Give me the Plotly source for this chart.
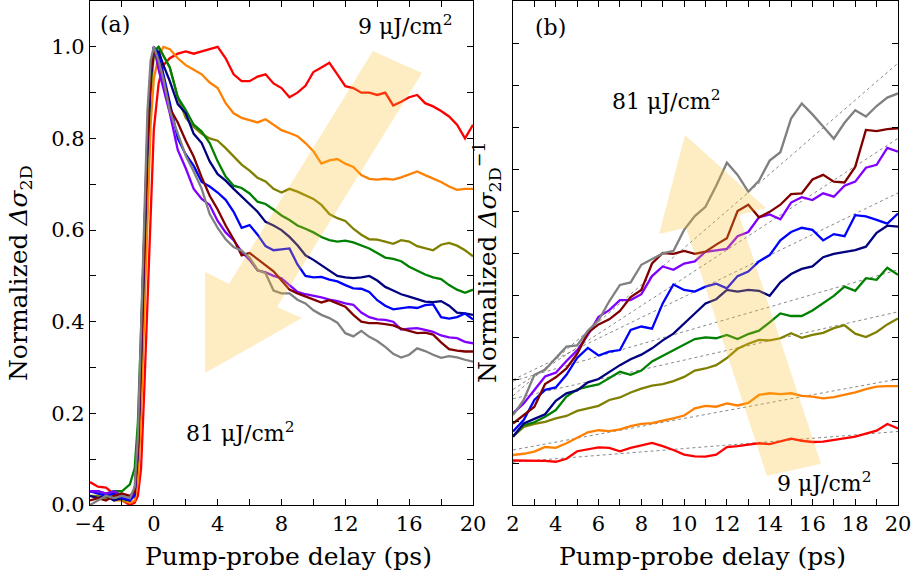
import plotly.graph_objects as go

# ---------------- data: panel (a) ----------------
t_a = [-4, -3.5, -3, -2.5, -2, -1.5, -1.2, -1.0, -0.8, -0.6, -0.4, -0.2, 0, 0.3, 0.6,
       1.0, 1.5, 2.0, 2.5, 3.0, 3.5, 4.0, 4.5, 5.0, 5.5, 6.0, 6.5, 7.0, 7.5, 8.0, 8.5,
       9.0, 9.5, 10.0, 10.5, 11.0, 11.5, 12.0, 12.5, 13.0, 13.5, 14.0, 14.5, 15.0, 15.5,
       16.0, 16.5, 17.0, 17.5, 18.0, 18.5, 19.0, 19.5, 20.0]

a_red = [0.05, 0.04, 0.038, 0.025, 0.01, 0.0, 0.005, 0.02, 0.08, 0.25, 0.45, 0.65, 0.82, 0.92, 0.96,
         0.975, 0.985, 0.99, 0.985, 0.99, 0.995, 1.0, 0.975, 0.94, 0.925, 0.925, 0.935, 0.94, 0.92, 0.91, 0.89,
         0.9, 0.915, 0.945, 0.955, 0.965, 0.94, 0.914, 0.91, 0.9, 0.9, 0.895, 0.9, 0.872, 0.88,
         0.89, 0.895, 0.877, 0.87, 0.86, 0.848, 0.83, 0.8, 0.83]
a_orange = [0.02, 0.015, 0.02, 0.01, 0.01, 0.005, 0.01, 0.05, 0.2, 0.42, 0.65, 0.83, 0.93, 0.98, 1.0,
            0.995, 0.975, 0.96, 0.95, 0.94, 0.922, 0.91, 0.877, 0.855, 0.845, 0.84, 0.835, 0.842, 0.83, 0.818, 0.812,
            0.805, 0.79, 0.772, 0.745, 0.752, 0.755, 0.745, 0.738, 0.72, 0.712, 0.71, 0.712, 0.71, 0.715,
            0.722, 0.728, 0.72, 0.712, 0.705, 0.695, 0.688, 0.69, 0.69]
a_olive = [0.02, 0.02, 0.015, 0.02, 0.01, 0.01, 0.03, 0.1, 0.3, 0.55, 0.76, 0.9, 0.98, 1.0, 0.98,
           0.955, 0.89, 0.845, 0.825, 0.81, 0.8, 0.795, 0.779, 0.76, 0.743, 0.73, 0.714, 0.706, 0.69, 0.682, 0.69,
           0.684, 0.676, 0.668, 0.655, 0.635, 0.626, 0.62, 0.603, 0.59, 0.58, 0.579, 0.575, 0.57, 0.578,
           0.575, 0.565, 0.56, 0.556, 0.568, 0.572, 0.566, 0.556, 0.543]
a_green = [0.03, 0.03, 0.025, 0.03, 0.03, 0.045, 0.08, 0.18, 0.38, 0.6, 0.8, 0.93, 0.99, 1.0, 0.98,
           0.955, 0.89, 0.862, 0.83, 0.815, 0.79, 0.75, 0.717, 0.697, 0.692, 0.68, 0.662, 0.657, 0.645, 0.632, 0.622,
           0.61, 0.603, 0.595, 0.585, 0.578, 0.575, 0.577, 0.573, 0.566, 0.56, 0.55, 0.54, 0.537, 0.532,
           0.52, 0.512, 0.503, 0.497, 0.493, 0.48, 0.47, 0.463, 0.47]
a_navy = [0.02, 0.015, 0.02, 0.01, 0.015, 0.01, 0.03, 0.12, 0.32, 0.57, 0.78, 0.93, 0.99, 0.99, 0.96,
          0.925, 0.875, 0.855, 0.81, 0.79, 0.75, 0.722, 0.708, 0.69, 0.673, 0.657, 0.64, 0.618, 0.61, 0.6, 0.585,
          0.567, 0.545, 0.535, 0.523, 0.512, 0.5, 0.497, 0.495, 0.497, 0.5, 0.49, 0.476, 0.468, 0.46,
          0.455, 0.45, 0.444, 0.443, 0.445, 0.435, 0.42, 0.418, 0.415]
a_blue = [0.03, 0.025, 0.02, 0.025, 0.015, 0.01, 0.02, 0.12, 0.33, 0.58, 0.8, 0.94, 1.0, 0.98, 0.94,
          0.88, 0.8, 0.765, 0.74, 0.705, 0.695, 0.682, 0.666, 0.64, 0.605, 0.611, 0.59, 0.565, 0.556, 0.558, 0.56,
          0.525, 0.5, 0.497, 0.498, 0.492, 0.488, 0.48, 0.473, 0.472, 0.465, 0.447, 0.435, 0.427, 0.43,
          0.432, 0.43, 0.436, 0.438, 0.41, 0.407, 0.41, 0.418, 0.405]
a_purple = [0.03, 0.03, 0.025, 0.03, 0.02, 0.015, 0.03, 0.13, 0.35, 0.6, 0.82, 0.95, 1.0, 0.95, 0.91,
            0.855, 0.775, 0.735, 0.69, 0.668, 0.655, 0.62, 0.595, 0.578, 0.553, 0.535, 0.512, 0.508, 0.5, 0.495, 0.48,
            0.465, 0.46, 0.457, 0.453, 0.448, 0.445, 0.44, 0.437, 0.42, 0.41, 0.405, 0.404, 0.4, 0.383,
            0.385, 0.386, 0.382, 0.378, 0.37, 0.366, 0.364, 0.356, 0.353]
a_darkred = [0.01, 0.015, 0.01, 0.02, 0.025, 0.02, 0.03, 0.12, 0.33, 0.58, 0.8, 0.94, 0.995, 0.97, 0.93,
             0.866, 0.835, 0.795, 0.76, 0.715, 0.675, 0.645, 0.61, 0.58, 0.545, 0.55, 0.537, 0.525, 0.51, 0.49, 0.47,
             0.462, 0.455, 0.448, 0.442, 0.447, 0.44, 0.433, 0.415, 0.4, 0.397, 0.397, 0.395, 0.392, 0.385,
             0.38, 0.375, 0.376, 0.372, 0.355, 0.34, 0.337, 0.335, 0.335]
a_gray = [0.0, 0.01, 0.02, 0.015, 0.02, 0.015, 0.04, 0.15, 0.4, 0.65, 0.86, 0.97, 1.0, 0.97, 0.93,
          0.86, 0.81, 0.762, 0.728, 0.69, 0.635, 0.605, 0.58, 0.563, 0.555, 0.54, 0.513, 0.506, 0.468, 0.462, 0.462,
          0.448, 0.44, 0.425, 0.415, 0.408, 0.398, 0.375, 0.368, 0.38, 0.367, 0.358, 0.345, 0.33, 0.322,
          0.328, 0.342, 0.336, 0.328, 0.321, 0.325, 0.322, 0.317, 0.313]

# ---------------- data: panel (b) ----------------
t_b = [2.0, 2.5, 3.0, 3.5, 4.0, 4.5, 5.0, 5.5, 6.0, 6.5, 7.0, 7.5, 8.0, 8.5, 9.0, 9.5, 10.0,
       10.5, 11.0, 11.5, 12.0, 12.5, 13.0, 13.5, 14.0, 14.5, 15.0, 15.5, 16.0, 16.5, 17.0,
       17.5, 18.0, 18.5, 19.0, 19.5, 20.0]

b_red = [1.06, 1.06, 1.06, 1.05, 1.03, 1.1, 1.28, 1.32, 1.37, 1.36, 1.28, 1.36, 1.42, 1.48, 1.4, 1.31, 1.2,
         1.16, 1.15, 1.2, 1.38, 1.4, 1.44, 1.47, 1.45, 1.52, 1.58, 1.53, 1.5, 1.51, 1.55,
         1.58, 1.63, 1.7, 1.77, 1.93, 1.82]
b_orange = [1.19, 1.22, 1.27, 1.38, 1.36, 1.47, 1.6, 1.73, 1.78, 1.76, 1.8, 1.88, 1.93, 1.95, 2.01, 2.06, 2.13,
            2.3, 2.36, 2.34, 2.42, 2.37, 2.43, 2.62, 2.66, 2.64, 2.66, 2.6, 2.58, 2.54, 2.57,
            2.62, 2.68, 2.76, 2.82, 2.83, 2.83]
b_olive = [1.63, 1.86, 1.93, 1.98, 2.06, 2.12, 2.24, 2.3, 2.36, 2.5, 2.56, 2.68, 2.77, 2.84, 2.88, 2.95, 3.05,
           3.2, 3.25, 3.33, 3.5, 3.72, 3.84, 3.93, 3.92, 3.97, 4.09, 3.98, 4.05, 4.1, 4.21,
           4.28, 4.08, 4.0, 4.12, 4.3, 4.44]
b_green = [1.63, 1.9, 1.97, 2.1, 2.26, 2.58, 2.75, 2.82, 2.87, 3.03, 3.17, 3.1, 3.2, 3.42, 3.55, 3.7, 3.81,
           3.95, 3.99, 3.97, 4.05, 3.95, 4.07, 4.15, 4.35, 4.56, 4.5, 4.5, 4.63, 4.8, 4.98,
           5.2, 5.1, 5.4, 5.36, 5.65, 5.48]
b_navy = [1.63, 1.94, 2.05, 2.16, 2.48, 2.66, 2.73, 2.92, 3.0, 3.17, 3.33, 3.47, 3.58, 3.73, 3.92, 4.08, 4.33,
          4.56, 4.8, 4.9, 5.12, 5.08, 5.12, 5.1, 4.98, 5.3, 5.5, 5.62, 5.68, 5.9, 5.98,
          6.02, 6.07, 6.15, 6.48, 6.65, 6.63]
b_blue = [1.75, 2.02, 2.5, 2.74, 2.8, 3.1, 3.5, 3.74, 3.56, 3.65, 3.69, 4.17, 4.25, 4.2, 4.8, 5.25, 5.12,
          5.08, 5.2, 5.27, 5.16, 5.45, 5.56, 5.8, 5.95, 6.3, 6.5, 6.6, 6.55, 6.3, 6.45,
          6.4, 6.9, 6.87, 6.79, 6.7, 6.94]
b_purple = [2.18, 2.42, 2.74, 3.06, 3.15, 3.43, 3.68, 4.05, 4.48, 4.64, 4.88, 4.88, 5.02, 5.45, 5.68, 5.6, 5.75,
            5.8, 6.03, 6.07, 6.1, 6.4, 6.5, 6.85, 6.92, 6.8, 7.2, 7.33, 7.26, 7.42, 7.34,
            7.6, 7.7, 8.03, 8.1, 8.5, 8.41]
b_darkred = [1.94, 2.14, 2.34, 2.88, 3.04, 3.25, 3.6, 4.1, 4.3, 4.42, 4.62, 4.95, 5.12, 5.75, 6.0, 5.98, 6.05,
             5.98, 6.03, 6.2, 6.35, 7.0, 7.15, 6.85, 6.98, 7.15, 7.4, 7.42, 7.75, 7.86, 7.7,
             7.68, 8.05, 8.93, 8.9, 8.95, 8.97]
b_gray = [2.14, 2.5, 3.1, 3.22, 3.5, 3.77, 3.8, 4.15, 4.4, 4.85, 5.24, 5.3, 5.72, 5.85, 5.99, 6.05, 6.55,
          6.88, 7.1, 7.6, 8.15, 7.86, 7.46, 7.72, 8.2, 8.4, 9.2, 9.56, 9.3, 9.01, 8.72,
          9.1, 9.4, 9.25, 9.5, 9.7, 9.8]

# linear fits (dotted), start value at 2 ps and end value at 20 ps
fit_x = [2, 20]
fit_start = [2.6, 2.75, 2.98, 2.95, 2.53, 1.31, 1.02]
fit_end = [10.52, 8.73, 7.43, 5.6, 4.6, 3.0, 1.75]

series_names = ["9", "18", "27", "36", "45", "54", "63", "72", "81"]
colors = ["#FF0000", "#FF8000", "#808000", "#008000", "#000080", "#0000FF", "#8000FF", "#800000", "#808080"]
a_series = [a_red, a_orange, a_olive, a_green, a_navy, a_blue, a_purple, a_darkred, a_gray]
b_series = [b_red, b_orange, b_olive, b_green, b_navy, b_blue, b_purple, b_darkred, b_gray]

# arrow outlines (data units of each panel)
arrow_a_x = [13.73, 4.71, 3.21, 3.21, 9.28, 7.72, 16.80]
arrow_a_y = [0.991, 0.4825, 0.509, 0.288, 0.408, 0.432, 0.943]
arrow_b_x = [13.87, 10.09, 8.83, 10.04, 13.83, 12.57, 16.40]
arrow_b_y = [0.69, 6.60, 6.45, 8.81, 7.07, 6.90, 0.98]

FONT = "DejaVu Serif"

fig = go.Figure()

for i in range(len(fit_start)):
    fig.add_trace(go.Scatter(x=fit_x, y=[fit_start[i], fit_end[i]], mode="lines",
                             line=dict(color="#7a7a7a", width=0.9, dash="dot"),
                             xaxis="x2", yaxis="y2", hoverinfo="skip", showlegend=False))

for name, c, ya, yb in zip(series_names, colors, a_series, b_series):
    fig.add_trace(go.Scatter(x=t_a, y=ya, mode="lines", line=dict(color=c, width=2.3),
                             name=name + " μJ/cm²", xaxis="x", yaxis="y", showlegend=False))
    fig.add_trace(go.Scatter(x=t_b, y=yb, mode="lines", line=dict(color=c, width=2.3),
                             name=name + " μJ/cm²", xaxis="x2", yaxis="y2", showlegend=False))


def path_of(xs, ys):
    return "M " + " L ".join(f"{x},{y}" for x, y in zip(xs, ys)) + " Z"


fill = "rgba(250,190,40,0.28)"
fig.add_shape(type="path", path=path_of(arrow_a_x, arrow_a_y), xref="x", yref="y",
              fillcolor=fill, line=dict(width=0), layer="above")
fig.add_shape(type="path", path=path_of(arrow_b_x, arrow_b_y), xref="x2", yref="y2",
              fillcolor=fill, line=dict(width=0), layer="above")

axis_common = dict(showline=True, linecolor="black", linewidth=1.3, mirror="allticks",
                   ticks="inside", ticklen=6, tickwidth=1.1, tickcolor="black", automargin=False,
                   showgrid=False, zeroline=False, tickfont=dict(family=FONT, size=21, color="black"))

xa_vals = list(range(-4, 21, 2))
xa_text = [("−" + str(-v) if v < 0 else str(v)) if v % 4 == 0 else "" for v in xa_vals]
ya_vals = [round(0.1 * k, 1) for k in range(12)]
ya_text = [f"{v:.1f}" if (k % 2 == 0 and k <= 10) else "" for k, v in enumerate(ya_vals)]
xb_vals = list(range(2, 21))
xb_text = [str(v) if v % 2 == 0 else "" for v in xb_vals]
yb_vals = list(range(0, 13))

y_dom = [1 - 505 / 575, 1 - 1 / 575]
fig.update_layout(
    width=913, height=575, margin=dict(l=0, r=0, t=0, b=0, autoexpand=False),
    paper_bgcolor="white", plot_bgcolor="white", showlegend=False,
    font=dict(family=FONT, color="black"),
    xaxis=dict(domain=[90 / 913, 473 / 913], range=[-4, 20], tickmode="array",
               tickvals=xa_vals, ticktext=xa_text, anchor="y", **axis_common),
    yaxis=dict(domain=y_dom, range=[0, 1.1], tickmode="array", tickvals=ya_vals,
               ticktext=ya_text, anchor="x", **axis_common),
    xaxis2=dict(domain=[513 / 913, 898 / 913], range=[2, 20], tickmode="array",
                tickvals=xb_vals, ticktext=xb_text, anchor="y2", **axis_common),
    yaxis2=dict(domain=y_dom, range=[0, 12.0], tickmode="array", tickvals=yb_vals,
                showticklabels=False, anchor="x2", **axis_common),
)

ann = []


def A(text, x, y, size, xanchor="center", angle=0):
    ann.append(dict(text=text, x=x, y=y, xref="paper", yref="paper", showarrow=False,
                    xanchor=xanchor, yanchor="middle", textangle=angle,
                    font=dict(family=FONT, size=size, color="black")))


A("Pump-probe delay (ps)", 288 / 913, 1 - 556 / 575, 25)
A("Pump-probe delay (ps)", 702 / 913, 1 - 556 / 575, 25)
A("Normalized <i>Δσ</i><sub>2D</sub>", 20 / 913, 1 - 273 / 575, 25, angle=-90)
A("Normalized <i>Δσ</i><sub>2D</sub><sup>−1</sup>", 487 / 913, 1 - 262 / 575, 25, angle=-90)
A("(a)", 115 / 913, 1 - 25 / 575, 22)
A("9 μJ/cm<sup>2</sup>", 455 / 913, 1 - 25 / 575, 22, xanchor="right")
A("81 μJ/cm<sup>2</sup>", 240 / 913, 1 - 432 / 575, 22)
A("(b)", 550 / 913, 1 - 28 / 575, 22)
A("81 μJ/cm<sup>2</sup>", 666 / 913, 1 - 100 / 575, 22)
A("9 μJ/cm<sup>2</sup>", 824 / 913, 1 - 482 / 575, 22)
fig.update_layout(annotations=ann)

fig.write_html("out.html", config={"displayModeBar": False},
               post_script="document.body.style.margin='0';document.body.style.overflow='hidden';")
